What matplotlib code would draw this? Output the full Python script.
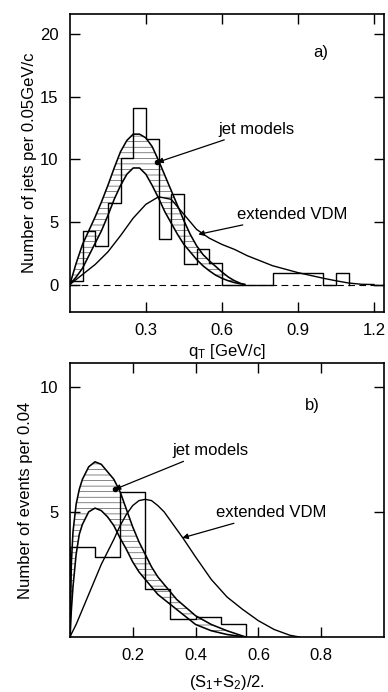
import matplotlib
matplotlib.use('Agg')
import matplotlib.pyplot as plt
import numpy as np

plt.rcParams['font.family'] = ['Liberation Sans', 'DejaVu Sans']
plt.rcParams['mathtext.default'] = 'regular'
plt.rcParams['hatch.linewidth'] = 0.45

# ---- panel a) : q_T distribution ----
# histogram, bins of 0.05 GeV/c
qt_edges = [0.0, 0.05, 0.10, 0.15, 0.20, 0.25, 0.30, 0.35, 0.40, 0.45, 0.50, 0.55,
            0.60, 0.65, 0.70, 0.75, 0.80, 0.85, 0.90, 0.95, 1.00, 1.05, 1.10]
qt_counts = [0.3, 4.3, 3.1, 6.5, 10.1, 14.1, 11.6, 3.6, 7.2, 1.6, 2.8, 1.7,
             0.0, 0.0, 0.0, 0.0, 0.95, 0.95, 0.95, 0.95, 0.0, 0.9]

# jet models band (upper / lower curve)
qt_jet_x = [0, 0.025, 0.05, 0.075, 0.1, 0.125, 0.15, 0.175, 0.2, 0.225, 0.25, 0.275, 0.3,
            0.325, 0.35, 0.375, 0.4, 0.425, 0.45, 0.475, 0.5, 0.525, 0.55, 0.575, 0.6,
            0.625, 0.65, 0.675, 0.69]
qt_jet_hi = [0, 1.7, 3.2, 4.3, 5.4, 6.6, 7.9, 9.3, 10.6, 11.5, 12.0, 12.0, 11.7,
             11.0, 9.9, 8.7, 7.5, 6.3, 5.1, 4.0, 3.1, 2.4, 1.9, 1.45, 1.0,
             0.6, 0.3, 0.08, 0]
qt_jet_lo = [0, 0.6, 1.3, 2.3, 3.3, 4.3, 5.5, 6.8, 7.9, 8.8, 9.3, 9.3, 8.8,
             7.9, 6.9, 5.8, 4.9, 4.0, 3.2, 2.6, 2.0, 1.5, 1.1, 0.75, 0.5,
             0.3, 0.15, 0.05, 0]

# extended VDM
qt_vdm_x = [0, 0.05, 0.1, 0.15, 0.2, 0.25, 0.3, 0.35, 0.4, 0.45, 0.5, 0.55, 0.6, 0.65,
            0.7, 0.8, 0.9, 1.0, 1.05, 1.1, 1.15, 1.2]
qt_vdm_y = [0, 0.8, 1.6, 2.6, 3.9, 5.3, 6.4, 7.0, 6.8, 5.6, 4.4, 3.7, 3.2, 2.8,
            2.3, 1.5, 0.95, 0.5, 0.3, 0.12, 0.02, 0]

# ---- panel b) : (S1+S2)/2 distribution ----
s_edges = [0.0, 0.08, 0.16, 0.24, 0.32, 0.40, 0.48, 0.56]
s_counts = [3.6, 3.2, 5.8, 1.9, 0.72, 0.78, 0.5]

s_jet_x = [0, 0.005, 0.01, 0.02, 0.03, 0.04, 0.06, 0.08, 0.1, 0.12, 0.14, 0.16, 0.18,
           0.2, 0.22, 0.24, 0.26, 0.28, 0.3, 0.34, 0.4, 0.45, 0.5, 0.55, 0.56]
s_jet_hi = [0, 3.0, 4.2, 5.3, 5.9, 6.3, 6.8, 7.0, 6.9, 6.6, 6.3, 5.8, 5.1,
            4.4, 3.8, 3.3, 2.8, 2.4, 2.1, 1.5, 0.85, 0.5, 0.25, 0.04, 0]
s_jet_lo = [0, 1.1, 2.0, 3.3, 4.1, 4.5, 5.0, 5.15, 5.05, 4.8, 4.45, 3.95, 3.5,
            3.0, 2.6, 2.3, 2.0, 1.7, 1.5, 1.1, 0.5, 0.25, 0.1, 0.01, 0]

s_vdm_x = [0, 0.02, 0.04, 0.06, 0.08, 0.1, 0.12, 0.14, 0.16, 0.18, 0.2, 0.22, 0.24,
           0.26, 0.28, 0.3, 0.32, 0.34, 0.36, 0.4, 0.45, 0.5, 0.55, 0.6, 0.65, 0.7, 0.73]
s_vdm_y = [0, 0.5, 1.1, 1.7, 2.3, 2.9, 3.4, 3.9, 4.45, 4.9, 5.25, 5.45, 5.5,
           5.45, 5.25, 5.0, 4.65, 4.3, 3.95, 3.2, 2.3, 1.6, 1.1, 0.65, 0.3, 0.07, 0]

fig = plt.figure(figsize=(3.88, 6.92), dpi=100)

ax1 = fig.add_axes([0.180, 0.549, 0.810, 0.431])
ax2 = fig.add_axes([0.180, 0.0795, 0.810, 0.396])

lw = 1.0


def draw_hist(ax, edges, counts):
    # outline histogram (step line only, from 0 up and back to 0)
    xs = [edges[0]]
    ys = [0]
    for i in range(len(counts)):
        xs += [edges[i], edges[i + 1]]
        ys += [counts[i], counts[i]]
    xs.append(edges[-1])
    ys.append(0)
    ax.plot(xs, ys, color='black', lw=lw)


def draw_band(ax, x, hi, lo):
    ax.fill_between(x, lo, hi, facecolor='none', edgecolor='#444444', hatch='---', lw=0)
    ax.plot(x, hi, color='black', lw=1.15)
    ax.plot(x, lo, color='black', lw=1.15)


# top panel
ax1.axhline(0, color='black', lw=0.8, ls=(0, (6, 4)))
draw_hist(ax1, qt_edges, qt_counts)
draw_band(ax1, qt_jet_x, qt_jet_hi, qt_jet_lo)
ax1.plot(qt_vdm_x, qt_vdm_y, color='black', lw=lw)
ax1.plot([1.2, 1.24], [0, 0], color='black', lw=lw)

ax1.set_xlim(0, 1.24)
ax1.set_ylim(-2.2, 21.6)
ax1.set_xticks([0.3, 0.6, 0.9, 1.2])
ax1.set_xticklabels(['0.3', '0.6', '0.9', '1.2'])
ax1.set_yticks([0, 5, 10, 15, 20])
ax1.set_xlabel('q$_T$ [GeV/c]', fontsize=12, labelpad=3)
ax1.set_ylabel('Number of jets per 0.05GeV/c', fontsize=12, labelpad=2)

arrow = dict(arrowstyle='-|>', color='black', lw=0.9, shrinkA=1, shrinkB=0, mutation_scale=8)

ax1.annotate('jet models', xy=(0.345, 9.75), xytext=(0.585, 12.4), fontsize=12,
             va='center', ha='left', arrowprops=arrow)
ax1.plot([0.345], [9.75], 'ko', ms=3)
ax1.annotate('extended VDM', xy=(0.507, 4.0), xytext=(0.66, 5.6), fontsize=12,
             va='center', ha='left', arrowprops=arrow)
ax1.text(0.99, 18.5, 'a)', fontsize=12, ha='center', va='center')

# bottom panel
draw_hist(ax2, s_edges, s_counts)
draw_band(ax2, s_jet_x, s_jet_hi, s_jet_lo)
ax2.plot(s_vdm_x, s_vdm_y, color='black', lw=lw)

ax2.set_xlim(0, 1.0)
ax2.set_ylim(0, 10.95)
ax2.set_xticks([0.2, 0.4, 0.6, 0.8])
ax2.set_xticklabels(['0.2', '0.4', '0.6', '0.8'])
ax2.set_yticks([5, 10])
ax2.set_xlabel('(S$_1$+S$_2$)/2.', fontsize=12, labelpad=7)
ax2.set_ylabel('Number of events per 0.04', fontsize=12, labelpad=5)

ax2.annotate('jet models', xy=(0.143, 5.9), xytext=(0.325, 7.45), fontsize=12,
             va='center', ha='left', arrowprops=arrow)
ax2.plot([0.143], [5.9], 'ko', ms=3)
ax2.annotate('extended VDM', xy=(0.358, 3.96), xytext=(0.466, 4.97), fontsize=12,
             va='center', ha='left', arrowprops=arrow)
ax2.text(0.772, 9.25, 'b)', fontsize=12, ha='center', va='center')

for ax in (ax1, ax2):
    ax.tick_params(direction='in', top=True, right=True, length=7, width=1.0,
                   labelsize=12, pad=8)
    for s in ax.spines.values():
        s.set_linewidth(1.2)

plt.savefig('out.png', dpi=100)
